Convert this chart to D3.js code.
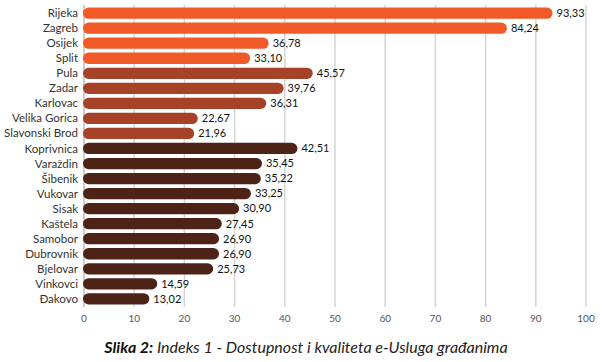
<!DOCTYPE html>
<html>
<head>
<meta charset="utf-8">
<script src="https://cdn.jsdelivr.net/npm/d3@7"></script>
<style>
  body { margin: 0; background: #fff; }
  text { font-family: Lato, "Open Sans", sans-serif; }
</style>
</head>
<body>
<div id="chart"></div>
<script>
// cities, top to bottom
const cities = ["Rijeka", "Zagreb", "Osijek", "Split", "Pula", "Zadar", "Karlovac",
  "Velika Gorica", "Slavonski Brod", "Koprivnica", "Varaždin", "Šibenik", "Vukovar",
  "Sisak", "Kaštela", "Samobor", "Dubrovnik", "Bjelovar", "Vinkovci", "Đakovo"];
const values = [93.33, 84.24, 36.78, 33.10, 45.57, 39.76, 36.31, 22.67, 21.96, 42.51,
  35.45, 35.22, 33.25, 30.90, 27.45, 26.90, 26.90, 25.73, 14.59, 13.02];
// city size group: 0 = big, 1 = medium, 2 = small
const groups = [0, 0, 0, 0, 1, 1, 1, 1, 1, 2, 2, 2, 2, 2, 2, 2, 2, 2, 2, 2];
const groupColors = ["#f15a26", "#a64228", "#4e2317"];
const xTicks = d3.range(0, 101, 10);

const width = 602, height = 362;
const margin = {left: 84, right: 16, top: 5, bottom: 56};

const svg = d3.select("#chart").append("svg")
  .attr("width", width)
  .attr("height", height);

const x = d3.scaleLinear()
  .domain([0, 100])
  .range([margin.left, width - margin.right]);

const y = d3.scaleBand()
  .domain(cities)
  .range([margin.top + 1, height - margin.bottom])
  .paddingInner(0.25)
  .paddingOuter(0.1);

// grid
svg.append("g")
  .selectAll("line")
  .data(xTicks)
  .enter()
  .append("line")
  .attr("x1", d => x(d)).attr("x2", d => x(d))
  .attr("y1", margin.top).attr("y2", height - margin.bottom + 1)
  .attr("stroke", d => d === 0 ? "#bdbdbd" : "#d4d4d4")
  .attr("stroke-width", 1.5);

// bars
const bh = y.bandwidth();
svg.append("g")
  .selectAll("rect")
  .data(cities)
  .enter()
  .append("rect")
  .attr("x", x(0) - 1)
  .attr("y", d => y(d))
  .attr("width", (d, i) => x(values[i]) - x(0) + 1)
  .attr("height", bh)
  .attr("rx", bh / 2)
  .attr("fill", (d, i) => groupColors[groups[i]]);

// value labels
svg.append("g")
  .selectAll("text")
  .data(cities)
  .enter()
  .append("text")
  .attr("x", (d, i) => x(values[i]) + 4)
  .attr("y", d => y(d) + bh / 2)
  .attr("dy", "0.35em")
  .attr("font-size", 11)
  .attr("fill", "#111")
  .text((d, i) => values[i].toFixed(2).replace(".", ","));

// category labels
svg.append("g")
  .selectAll("text")
  .data(cities)
  .enter()
  .append("text")
  .attr("x", margin.left - 6)
  .attr("y", d => y(d) + bh / 2)
  .attr("dy", "0.35em")
  .attr("text-anchor", "end")
  .attr("font-size", 11.5)
  .attr("fill", "#333")
  .text(d => d);

// x axis labels
svg.append("g")
  .selectAll("text")
  .data(xTicks)
  .enter()
  .append("text")
  .attr("x", d => x(d))
  .attr("y", height - margin.bottom + 16)
  .attr("text-anchor", "middle")
  .attr("font-size", 10)
  .attr("fill", "#555")
  .text(d => d);

// caption
const cap = svg.append("text")
  .attr("x", width / 2 + 5)
  .attr("y", 353)
  .attr("text-anchor", "middle")
  .attr("font-size", 16)
  .attr("font-style", "italic")
  .attr("fill", "#222");
cap.append("tspan").attr("font-weight", "bold").attr("fill", "#111").text("Slika 2:");
cap.append("tspan").text(" Indeks 1 - Dostupnost i kvaliteta e-Usluga građanima");
</script>
</body>
</html>
